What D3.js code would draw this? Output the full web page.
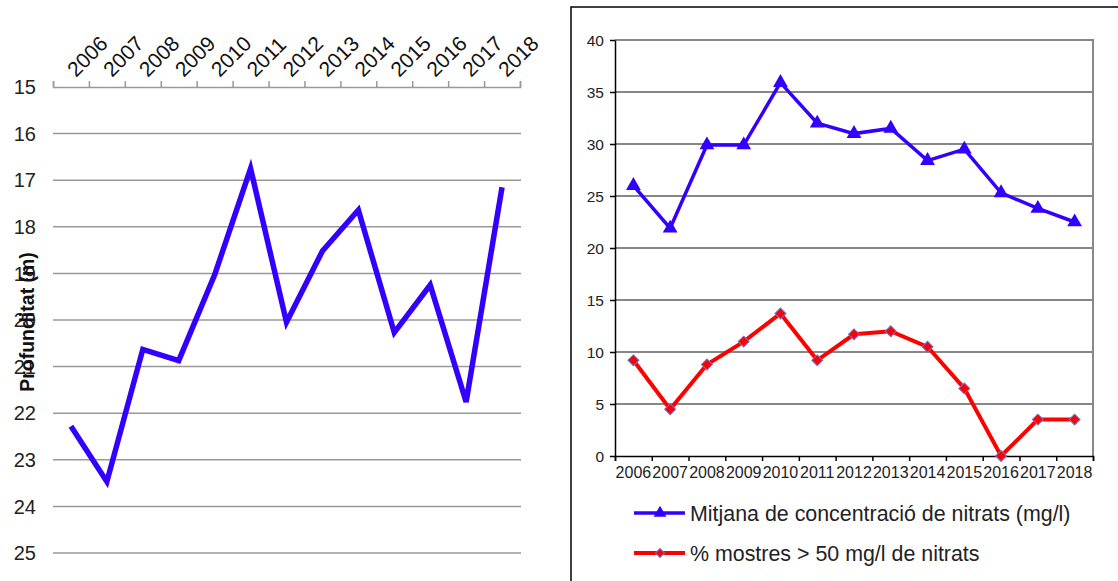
<!DOCTYPE html>
<html><head><meta charset="utf-8">
<script src="https://cdn.jsdelivr.net/npm/d3@7"></script>
<style>body{margin:0;background:#fff} svg text{font-family:"Liberation Sans",Arial,sans-serif}</style>
</head><body><svg id="c" width="1118" height="581"></svg>
<script>
const years = ["2006","2007","2008","2009","2010","2011","2012","2013","2014","2015","2016","2017","2018"];
const profunditat = [22.28,23.47,20.63,20.87,19.03,16.75,20.05,18.52,17.64,20.27,19.25,21.76,17.15];
const depthTicks = [15,16,17,18,19,20,21,22,23,24,25];
const nitrateMean = [26.0,21.9,29.9,29.9,35.9,32.0,31.0,31.5,28.4,29.5,25.3,23.8,22.5];
const pctOver50 = [9.2,4.5,8.8,11.0,13.7,9.2,11.7,12.0,10.5,6.5,0,3.5,3.5];
const nitrateTicks = [0,5,10,15,20,25,30,35,40];
const depthLabel = "Profunditat (m)";
const legendLabels = ["Mitjana de concentració de nitrats (mg/l)","% mostres > 50 mg/l de nitrats"];

const svg = d3.select("#c");
const BLUE = "#3300ff", RED = "#ff0000";

// ---------- Left chart ----------
const L = svg.append("g");
const xL = d3.scaleBand().domain(years).range([53,520]);
const xLi = d3.scaleLinear().domain([0,years.length]).range(xL.range());
const yL = d3.scaleLinear().domain([15,25]).range([87,553]);

L.append("g").selectAll("line").data(depthTicks.slice(1)).join("line")
  .attr("x1",53).attr("x2",521).attr("y1",d=>yL(d)).attr("y2",d=>yL(d))
  .attr("stroke","#999").attr("stroke-width",1.5);

const topAx = L.append("g").attr("transform",`translate(0,${yL(15)})`)
  .call(d3.axisTop(xLi).ticks(years.length).tickSize(6).tickSizeOuter(6).tickFormat(""));
topAx.selectAll("path,line").attr("stroke","#999").attr("stroke-width",1.5);

L.append("g").selectAll("text").data(years).join("text")
  .attr("transform",d=>`translate(${xL(d)+xL.bandwidth()/2+5},78) rotate(-45)`)
  .attr("font-size",21).attr("fill","#111").text(d=>d);

L.append("g").selectAll("text").data(depthTicks).join("text")
  .attr("x",36).attr("y",d=>yL(d)).attr("dy","0.36em").attr("text-anchor","end")
  .attr("font-size",20).attr("fill","#222").text(d=>d);

L.append("text").attr("transform","translate(34,322) rotate(-90)")
  .attr("text-anchor","middle").attr("font-size",19.5).attr("font-weight","bold")
  .attr("fill","#111").text(depthLabel);

L.append("path").datum(profunditat)
  .attr("d",d3.line().x((d,i)=>xL(years[i])+xL.bandwidth()/2).y(d=>yL(d)))
  .attr("fill","none").attr("stroke",BLUE).attr("stroke-width",5.5).attr("stroke-linejoin","miter");

// ---------- Right chart ----------
const R = svg.append("g");
R.append("rect").attr("x",571).attr("y",7).attr("width",700).attr("height",700)
  .attr("fill","none").attr("stroke","#000").attr("stroke-width",1.5);

const xR = d3.scaleBand().domain(years).range([615,1093]);
const xRi = d3.scaleLinear().domain([0,years.length]).range(xR.range());
const yR = d3.scaleLinear().domain([0,40]).range([456,40]);

R.append("g").selectAll("line").data(nitrateTicks.filter(d=>d>0 && d<40)).join("line")
  .attr("x1",615).attr("x2",1093).attr("y1",d=>yR(d)).attr("y2",d=>yR(d))
  .attr("stroke","#111").attr("stroke-width",1.2);
R.append("path").attr("d",`M615,${yR(40)}H1093V${yR(0)}`).attr("fill","none")
  .attr("stroke","#888").attr("stroke-width",2);

const lAx = R.append("g").attr("transform","translate(615,0)")
  .call(d3.axisLeft(yR).tickValues(nitrateTicks).tickSize(5).tickSizeOuter(0).tickFormat(""));
lAx.selectAll("path,line").attr("stroke","#000").attr("stroke-width",1.5);
R.append("g").selectAll("text").data(nitrateTicks).join("text")
  .attr("x",604).attr("y",d=>yR(d)).attr("dy","0.36em").attr("text-anchor","end")
  .attr("font-size",15.5).attr("fill","#222").text(d=>d);

const bAx = R.append("g").attr("transform",`translate(0,${yR(0)})`)
  .call(d3.axisBottom(xRi).ticks(years.length).tickSize(5).tickSizeOuter(5).tickFormat(""));
bAx.selectAll("path,line").attr("stroke","#000").attr("stroke-width",1.5);
R.append("g").selectAll("text").data(years).join("text")
  .attr("x",d=>xR(d)+xR.bandwidth()/2).attr("y",478).attr("text-anchor","middle")
  .attr("font-size",16).attr("fill","#222").text(d=>d);

const cx = i=>xR(years[i])+xR.bandwidth()/2;
R.append("path").datum(nitrateMean)
  .attr("d",d3.line().x((d,i)=>cx(i)).y(d=>yR(d)))
  .attr("fill","none").attr("stroke",BLUE).attr("stroke-width",3.5);
R.append("path").datum(pctOver50)
  .attr("d",d3.line().x((d,i)=>cx(i)).y(d=>yR(d)))
  .attr("fill","none").attr("stroke",RED).attr("stroke-width",4);

const tri = d3.symbol().type(d3.symbolTriangle).size(95);
const dia = d3.symbol().type(d3.symbolSquare).size(60);
R.append("g").selectAll("path").data(nitrateMean).join("path")
  .attr("transform",(d,i)=>`translate(${cx(i)},${yR(d)})`).attr("d",tri).attr("fill",BLUE);
R.append("g").selectAll("path").data(pctOver50).join("path")
  .attr("transform",(d,i)=>`translate(${cx(i)},${yR(d)}) rotate(45)`).attr("d",dia)
  .attr("fill",RED).attr("stroke","#7070d0").attr("stroke-width",1);

// legend
const lg = R.append("g");
const legY = [513,553];
lg.append("line").attr("x1",634).attr("x2",685).attr("y1",legY[0]).attr("y2",legY[0]).attr("stroke",BLUE).attr("stroke-width",3.5);
lg.append("path").attr("transform",`translate(660,${legY[0]})`).attr("d",d3.symbol().type(d3.symbolTriangle).size(70)).attr("fill",BLUE);
lg.append("line").attr("x1",634).attr("x2",685).attr("y1",legY[1]).attr("y2",legY[1]).attr("stroke",RED).attr("stroke-width",4);
lg.append("path").attr("transform",`translate(660,${legY[1]}) rotate(45)`).attr("d",d3.symbol().type(d3.symbolSquare).size(40))
  .attr("fill",RED).attr("stroke","#7070d0").attr("stroke-width",1);
lg.selectAll("text").data(legendLabels).join("text")
  .attr("x",690).attr("y",(d,i)=>legY[i]).attr("dy","0.36em")
  .attr("font-size",21.4).attr("fill","#222").text(d=>d);
</script></body></html>
